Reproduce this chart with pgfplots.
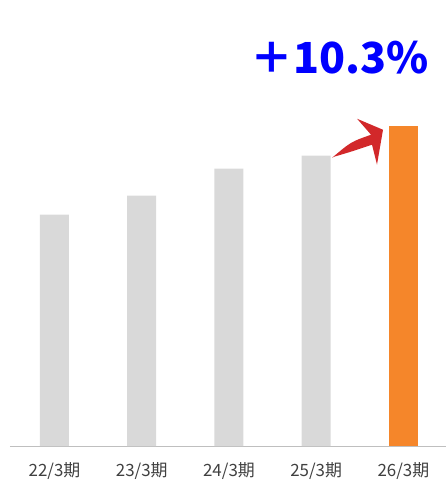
\documentclass[border=0pt]{standalone}
\usepackage{fontspec}
\setmainfont{Noto Sans CJK JP}
\usepackage{pgfplots}
\pgfplotsset{compat=1.18}
\definecolor{bargray}{HTML}{D9D9D9}
\definecolor{barorange}{HTML}{F5862A}
\definecolor{arrowred}{HTML}{D2282A}
\definecolor{axisgray}{HTML}{BFBFBF}
\definecolor{labgray}{HTML}{404040}
\begin{document}
\begin{tikzpicture}
\begin{axis}[
  scale only axis,
  width=437bp, height=447bp,
  xmin=-0.51, xmax=4.49,
  ymin=0, ymax=447,
  axis x line=bottom,
  axis line style={axisgray, line width=1pt, -},
  hide y axis,
  xtick={0,1,2,3,4},
  xticklabels={22/3期,23/3期,24/3期,25/3期,26/3期},
  major tick length=0pt,
  xticklabel style={font=\fontsize{17}{20}\selectfont, text=labgray, yshift=-13bp},
  ybar, bar width=29bp, bar shift=0pt,
  clip=false,
]
\addplot[fill=bargray, draw=none] coordinates {(0,232) (1,251) (2,278) (3,291)};
\addplot[fill=barorange, draw=none] coordinates {(4,321)};
\fill[arrowred] (axis cs:3.183,289) .. controls (axis cs:3.40,305) .. (axis cs:3.629,312)
  -- (axis cs:3.469,328) -- (axis cs:3.766,317) -- (axis cs:3.697,282) -- (axis cs:3.640,302)
  .. controls (axis cs:3.40,295) .. (axis cs:3.206,290) -- cycle;
\node[text=blue, font=\fontsize{43}{48}\selectfont\bfseries, inner sep=0pt] at (axis cs:3.27,389) {＋10.3\%};
\end{axis}
\path[use as bounding box] (-10bp,-36bp) rectangle (437bp,447bp);
\end{tikzpicture}
\end{document}
